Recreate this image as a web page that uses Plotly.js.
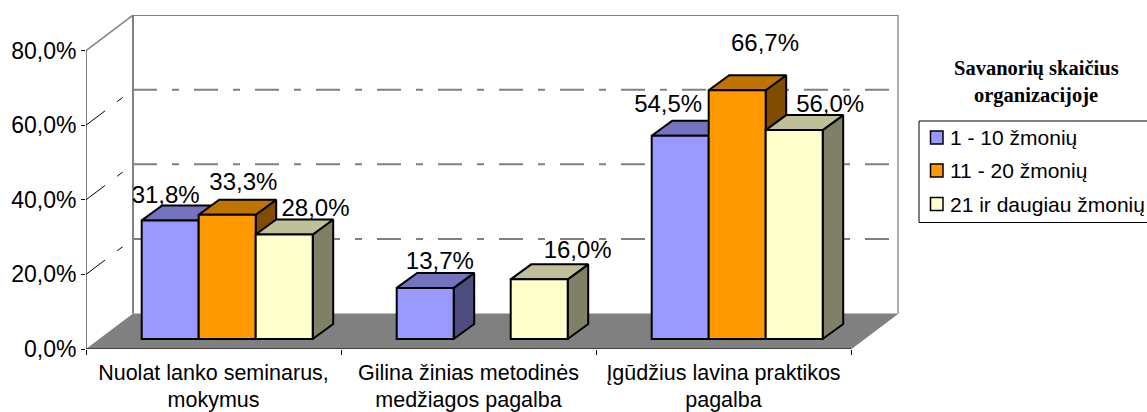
<!DOCTYPE html>
<html><head><meta charset="utf-8">
<script src="https://cdn.plot.ly/plotly-3.0.1.min.js"></script>
<style>html,body{margin:0;padding:0;background:#fff;overflow:hidden}</style>
</head><body><div id="chart" style="width:1147px;height:412px"></div>
<script>
// ---- data ----
const categories = ['Nuolat lanko seminarus,<br>mokymus', 'Gilina žinias metodinės<br>medžiagos pagalba', 'Įgūdžius lavina praktikos<br>pagalba'];
const seriesNames = ['1 - 10 žmonių', '11 - 20 žmonių', '21 ir daugiau žmonių'];
const valuesSmall = [31.8, 13.7, 54.5];
const valuesMedium = [33.3, null, 66.7];
const valuesLarge = [28.0, 16.0, 56.0];
const yTickValues = [0, 20, 40, 60, 80];
const yTickLabels = ['0,0%', '20,0%', '40,0%', '60,0%', '80,0%'];
const legendTitleLines = ['Savanorių skaičius', 'organizacijoje'];

// ---- style ----
const frontColors = ['#9999FF', '#FF9900', '#FFFFCC'];
const topColors = ['#7373BF', '#BF7300', '#BFBF99'];
const sideColors = ['#4D4D80', '#804D00', '#808066'];
const FONT = 'Liberation Sans, Arial, sans-serif';
const SERIF = 'Liberation Serif, Times New Roman, serif';

// ---- geometry of the oblique projection ----
const W = 1147, H = 412;
const mL = 86, mR = W - 900, mT = 15, mB = 63;
const pxPerCat = 255, pxPerPct = 3.73;
const cat = px => px / pxPerCat, pct = px => px / pxPerPct;
const xRange = [0, (W - mL - mR) / pxPerCat];
const yRange = [0, (H - mT - mB) / pxPerPct];
const wallDx = cat(47), wallDy = pct(35.5);
const barDx = cat(20.5), barDy = pct(15);
const barBase = pct(10), barGroupOffset = cat(55.7), barWidth = cat(57);
const nCat = categories.length, yMax = 80;
// hand placed label shifts in the original (px from bar top centre), by series then category
const labelNudgeX = [[-4.5, 14.7, -12], [16.2, 0, 27.8], [31.3, 38.5, 36]];
const labelNudgeY = [[23, 25, 30], [30.5, 0, 45.3], [25, 27.5, 24]];

const allValues = [valuesSmall, valuesMedium, valuesLarge];
const traces = [];

// axis lines and oblique wall grid
const px2fx = px => (px - mL) / (W - mL - mR);
const px2fy = py => 1 - (py - mT) / (H - mT - mB);
const gridDash = '24px,15px,7px,15px';
const shapes = [];
const line = (x0, y0, x1, y1, color, width, dash) => shapes.push({type: 'line', layer: 'below', xref: 'x', yref: 'y', x0, y0, x1, y1, line: {color, width, dash: dash || 'solid'}});
shapes.push({type: 'path', layer: 'below', xref: 'x', yref: 'y', line: {width: 0},
  path: `M0,0 L${nCat},0 L${nCat + wallDx},${wallDy} L${wallDx},${wallDy} Z`, fillcolor: '#808080'});
yTickValues.filter(v => v > 0 && v < yMax).forEach(v => {
  line(wallDx, v + wallDy, nCat + wallDx, v + wallDy, '#808080', 2, gridDash);
  line(0, v, wallDx, v + wallDy, '#000000', 1, gridDash);
});
line(wallDx, wallDy, wallDx, yMax + wallDy, '#808080', 2);
line(nCat + wallDx, wallDy, nCat + wallDx, yMax + wallDy, '#909090', 1.5);
line(wallDx, yMax + wallDy, nCat + wallDx, yMax + wallDy, '#808080', 2);
line(0, yMax, wallDx, yMax + wallDy, '#808080', 1.5);
line(nCat, 0, nCat + wallDx, wallDy, '#808080', 1);
line(0, 0, 0, yMax, '#000000', 1);
line(0, 0, nCat, 0, '#000000', 1);

// oblique side and top faces, computed from the values
allValues.forEach((vals, s) => {
  const start = barGroupOffset + s * barWidth;
  const sideX = [], sideY = [], topX = [], topY = [];
  vals.forEach((v, i) => {
    if (v === null) return;
    const l = i + start, r = l + barWidth, t = barBase + v;
    sideX.push(r, r + barDx, r + barDx, r, r, null);
    sideY.push(barBase, barBase + barDy, t + barDy, t, barBase, null);
    topX.push(l, l + barDx, r + barDx, r, l, null);
    topY.push(t, t + barDy, t + barDy, t, t, null);
  });
  [[sideX, sideY, sideColors[s]], [topX, topY, topColors[s]]].forEach(([x, y, c]) => traces.push({
    type: 'scatter', mode: 'lines', x, y, fill: 'toself', fillcolor: c,
    line: {color: '#000000', width: 2}, hoverinfo: 'skip', showlegend: false, xaxis: 'x', yaxis: 'y', cliponaxis: false
  }));
});

// front faces: real bars, on overlaid axes so that they cover the oblique faces
allValues.forEach((vals, s) => traces.push({
  type: 'bar', name: seriesNames[s], x: categories.map((_, i) => i), y: vals, base: barBase,
  offset: barGroupOffset + s * barWidth, width: barWidth,
  marker: {color: frontColors[s], line: {color: '#000000', width: 2}},
  xaxis: 'x2', yaxis: 'y2', showlegend: false
}));

// value labels
allValues.forEach((vals, s) => traces.push({
  type: 'scatter', mode: 'text', x: vals.map((_, i) => i + barGroupOffset + (s + .5) * barWidth + cat(labelNudgeX[s][i])),
  y: vals.map((v, i) => v === null ? null : barBase + v + pct(labelNudgeY[s][i])),
  text: vals.map(v => v === null ? '' : v.toFixed(1).replace('.', ',') + '%'),
  textposition: 'middle center', textfont: {family: FONT, size: 24, color: '#000000'},
  cliponaxis: false, hoverinfo: 'skip', showlegend: false, xaxis: 'x2', yaxis: 'y2'
}));

// legend
const annotations = [];
legendTitleLines.forEach((t, i) => annotations.push({
  xref: 'paper', yref: 'paper', x: px2fx(1036), y: px2fy(68 + i * 28), text: '<b>' + t + '</b>', showarrow: false,
  xanchor: 'center', yanchor: 'middle', font: {family: SERIF, size: 20.5, color: '#000000'}
}));
const paperRect = (x0, y0, x1, y1, fill, width) => shapes.push({type: 'rect', layer: 'above', xref: 'paper', yref: 'paper',
  x0: px2fx(x0), x1: px2fx(x1), y0: px2fy(y0), y1: px2fy(y1), fillcolor: fill, line: {color: '#000000', width}});
paperRect(919, 121, 1160, 222.5, 'rgba(0,0,0,0)', 1);
const legendRows = [137.5, 170.5, 204];
seriesNames.forEach((n, i) => {
  paperRect(930.5, legendRows[i] - 6.5, 943, legendRows[i] + 6.5, frontColors[i], 1.5);
  annotations.push({xref: 'paper', yref: 'paper', x: px2fx(947.5), y: px2fy(legendRows[i]), text: n, showarrow: false,
    xanchor: 'left', yanchor: 'middle', font: {family: FONT, size: 21, color: '#000000'}});
});

const layout = {
  width: W, height: H, margin: {l: mL, r: mR, t: mT, b: mB, pad: 0},
  paper_bgcolor: '#ffffff', plot_bgcolor: 'rgba(0,0,0,0)', showlegend: false, barmode: 'overlay',
  font: {family: FONT, color: '#000000'},
  xaxis: {range: xRange, tickmode: 'array', tickvals: categories.map((_, i) => i + .5), ticktext: categories,
    ticks: '', showgrid: false, zeroline: false, showline: false, tickangle: 0, fixedrange: true, ticklabelstandoff: 8,
    tickfont: {family: FONT, size: 21.5, color: '#000000'}},
  yaxis: {range: yRange, tickmode: 'array', tickvals: yTickValues, ticktext: yTickLabels, ticks: 'outside', ticklen: 4, tickwidth: 1,
    tickcolor: '#000000', showgrid: false, zeroline: false, showline: false, fixedrange: true,
    tickfont: {family: FONT, size: 23, color: '#000000'}},
  xaxis2: {overlaying: 'x', anchor: 'y2', range: xRange, tickmode: 'array', tickvals: [0, 1, 2, 3], showticklabels: false,
    ticks: 'outside', ticklen: 5, tickwidth: 1, tickcolor: '#000000', showgrid: false, zeroline: false, showline: false, fixedrange: true},
  yaxis2: {overlaying: 'y', anchor: 'x2', range: yRange, showticklabels: false, ticks: '', showgrid: false, zeroline: false, showline: false, fixedrange: true},
  shapes, annotations
};
Plotly.newPlot('chart', traces, layout, {displayModeBar: false, staticPlot: true});
</script></body></html>
